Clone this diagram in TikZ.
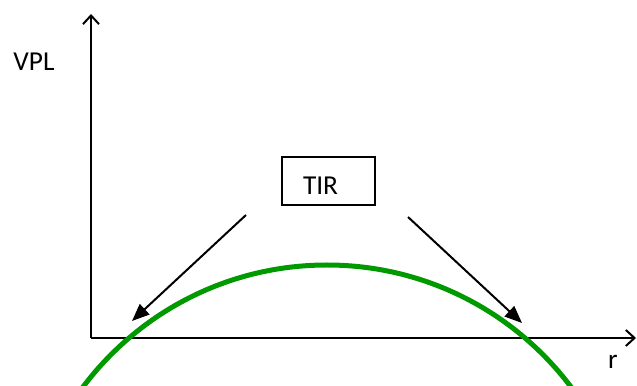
\documentclass[tikz,border=0pt]{standalone}
\usepackage{fontspec}
\setmainfont{Carlito}
\usepackage{xcolor}
\usetikzlibrary{arrows.meta,positioning}
\definecolor{curvegreen}{HTML}{009900}

\begin{document}
\begin{tikzpicture}[x=0.75pt, y=0.75pt, font=\fontsize{20.5}{24}\selectfont]
  \tikzset{box/.style={draw, line width=1.5pt, align=left, text width=38.25pt, inner xsep=15.75pt, inner ysep=0pt, text height=21pt, text depth=0pt, minimum height=36pt},
    axis/.style={line width=1.5pt, -{Straight Barb[length=6.5pt, width=12pt, line width=1.5pt]}},
    pointer/.style={line width=1.5pt, -{Triangle[length=13pt, width=10.5pt]}}}
  \useasboundingbox (0,0) rectangle (637,386);
  % axes
  \coordinate (o) at (91,48);
  \coordinate (ytop) at (91,372);
  \coordinate (xend) at (636,48);
  \draw[axis] (o) -- (ytop);
  \draw[axis] (o) -- (xend);
  \node (vpl) at (34,324) {VPL};
  \node (r) at (613,24) {r};
  % curve
  \begin{scope}
    \clip (0,0) rectangle (637,386);
    \draw[curvegreen, line width=3.75pt] (327,-184) circle [radius=305];
  \end{scope}
  % TIR
  \node[box] (tir) at (328.5,205) {TIR};
  \coordinate (lfrom) at (246,171);
  \coordinate (lto) at (132,65);
  \coordinate (rfrom) at (408,169);
  \coordinate (rto) at (522,63);
  \draw[pointer] (lfrom) -- (lto);
  \draw[pointer] (rfrom) -- (rto);
\end{tikzpicture}
\end{document}
